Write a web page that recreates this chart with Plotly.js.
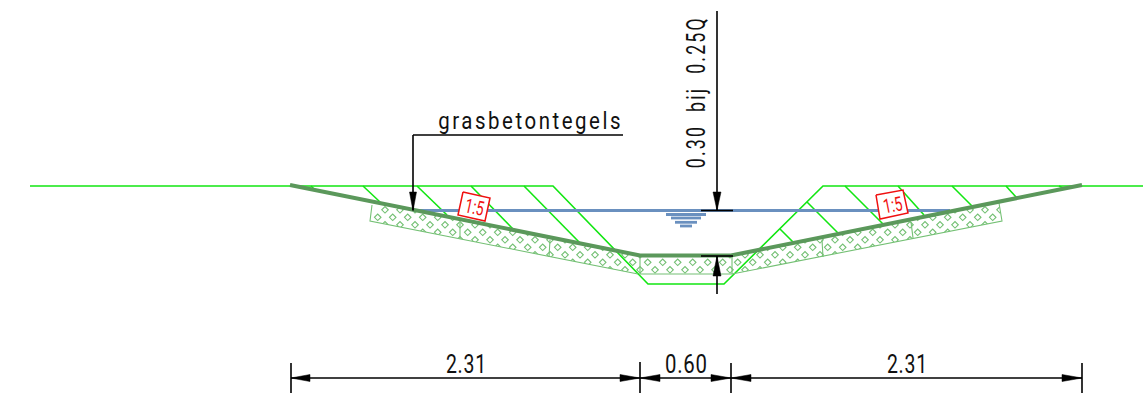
<!DOCTYPE html>
<html><head><meta charset="utf-8">
<script src="https://cdn.plot.ly/plotly-3.0.1.min.js"></script>
<style>html,body{margin:0;padding:0;background:#fff;overflow:hidden}</style></head>
<body><div id="chart" style="width:1143px;height:413px"></div>
<script>
// Drawing values (drawing units)
const groundX = [30,553,648,724,823,1143];
const groundY = [186,186,284,284,186,186];
const hatchX = [311,314,null,363,380,null,417,447,null,471,513,null,524,580,null,
  780,793,null,807,838,null,845,883,null,898,924,null,952,972,null,1006,1016,null,1059,1063];
const hatchY = [186,189,null,186,202,null,186,215,null,186,229,null,186,243,null,
  229,242,null,202,233,null,186,224,null,186,215,null,186,206,null,186,197,null,186,188];
const tileX = [372,370,638,null,460,460,null,550,549,null,640,640,732,732,null,
  732,1002,999,null,822,823,null,911,913];
const tileY = [205,221,274,null,223,239,null,240,257,null,256,274,274,256,null,
  274,221,203,null,240,257,null,222,238];
const diamondX = [
  385,400,415,
  377.7,392.7,407.7,422.7,437.7,452.7,
  385,400,415,430,445,460,475,490,
  422.7,437.7,452.7,467.7,482.7,497.7,512.7,527.7,
  460,475,490,505,520,535,550,565,
  497.7,512.7,527.7,542.7,557.7,572.7,587.7,602.7,
  535,550,565,580,595,610,625,640,
  572.7,587.7,602.7,617.7,632.7,
  647.7,662.7,677.7,692.7,707.7,722.7,
  610,625,640,655,670,685,700,715,730,
  737.7,752.7,767.7,782.7,797.7,
  745,760,
  730,745,760,775,790,805,820,835,
  767.7,782.7,797.7,812.7,827.7,842.7,857.7,872.7,
  805,820,835,850,865,880,895,910,
  842.7,857.7,872.7,887.7,902.7,917.7,932.7,947.7,
  880,895,910,925,940,955,970,985,
  917.7,932.7,947.7,962.7,977.7,992.7,
  955,970,985,1000];
const diamondY = [
  209.8,209.8,209.8,
  217.3,217.3,217.3,217.3,217.3,217.3,
  224.8,224.8,224.8,224.8,224.8,224.8,224.8,224.8,
  232.3,232.3,232.3,232.3,232.3,232.3,232.3,232.3,
  239.8,239.8,239.8,239.8,239.8,239.8,239.8,239.8,
  247.3,247.3,247.3,247.3,247.3,247.3,247.3,247.3,
  254.8,254.8,254.8,254.8,254.8,254.8,254.8,254.8,
  262.3,262.3,262.3,262.3,262.3,
  262.3,262.3,262.3,262.3,262.3,262.3,
  269.8,269.8,269.8,269.8,269.8,269.8,269.8,269.8,269.8,
  262.3,262.3,262.3,262.3,262.3,
  269.8,269.8,
  254.8,254.8,254.8,254.8,254.8,254.8,254.8,254.8,
  247.3,247.3,247.3,247.3,247.3,247.3,247.3,247.3,
  239.8,239.8,239.8,239.8,239.8,239.8,239.8,239.8,
  232.3,232.3,232.3,232.3,232.3,232.3,232.3,232.3,
  224.8,224.8,224.8,224.8,224.8,224.8,224.8,224.8,
  217.3,217.3,217.3,217.3,217.3,217.3,
  209.8,209.8,209.8,209.8];
// white areas that trim the hatching to the tile outline
const trimX = [365,640,731,1012,1012,365,null,
  360,370,638,732,1002,1012,1012,360,null,
  360,372,370,360,null, 999,1012,1012,1002];
const trimY = [200.1,255.5,255.5,199,180,180,null,
  221,221,274,274,221,221,296,296,null,
  195,205,221,221,null, 203,195,221,221];
const slopeX = [290,640,731,1082];
const slopeY = [185,255.5,255.5,185];
const waterX = [413,950,null,666,706,null,671,701,null,675,697,null,680,692];
const waterY = [210.5,210.5,null,214.5,214.5,null,218,218,null,222.3,222.3,null,226,226];
const redBoxX = [463,490,485,458,463,null,876,903,908,880,876];
const redBoxY = [192,198,221,215,192,null,195,190,213,219,195];
const blackX = [413,623,null,413,413,null,717,717,null,701,733,null,701,733,null,717,717,null,
  291,1082,null,291,291,null,640,640,null,731,731,null,1082,1082];
const blackY = [135,135,null,135,210,null,11,210.5,null,210.5,210.5,null,256,256,null,256,294,null,
  378,378,null,363,393,null,362,393,null,363,393,null,363,393];
const arrowX = [413,409.5,416.5,413,null,717,713,721,717,null,717,713,721,717,null,
  291,310,310,291,null,640,620,620,640,null,640,660,660,640,null,
  731,711,711,731,null,731,751,751,731,null,1082,1062,1062,1082];
const arrowY = [211,192,192,211,null,210.5,192,192,210.5,null,256,276,276,256,null,
  378,374.5,381.5,378,null,378,374.5,381.5,378,null,378,374.5,381.5,378,null,
  378,374.5,381.5,378,null,378,374.5,381.5,378,null,378,374.5,381.5,378];
const labelTexts = ["grasbetontegels","0.30  bij  0.25Q","2.31","0.60","2.31"];
const labelX = [530.5,696,466,686,907];
const labelY = [121,92,364,364,364];
const labelAngle = [0,-90,0,0,0];
const labelLength = [185,152,41,43,41];
const slopeLabels = ["1:5","1:5"];
const slopeLabelX = [474,892];
const slopeLabelY = [206.5,204.5];
const slopeLabelAngle = [12,-11];
const slopeLabelLength = [19,19];

const line = (x,y,color,width,extra) => Object.assign({x,y,type:'scatter',mode:'lines',
  line:{color,width,simplify:false},hoverinfo:'skip',showlegend:false,connectgaps:false},extra||{});
const traces = [
  {x:diamondX,y:diamondY,type:'scatter',mode:'markers',hoverinfo:'skip',showlegend:false,
   marker:{symbol:'diamond-open',size:5,color:'#74c074',line:{color:'#74c074',width:1.1}}},
  line(trimX,trimY,'rgba(255,255,255,0)',0,{fill:'toself',fillcolor:'#ffffff'}),
  line(groundX,groundY,'#12e612',1.6),
  line(hatchX,hatchY,'#12e612',1.6),
  line(tileX,tileY,'#74c074',1.1),
  line(waterX,waterY,'#6a90bf',2.8),
  line(redBoxX,redBoxY,'#f01010',1.5,{fill:'toself',fillcolor:'#ffffff'}),
  line(slopeX,slopeY,'#5b985b',4),
  line(blackX,blackY,'#000000',1.6),
  line(arrowX,arrowY,'#000000',0.5,{fill:'toself',fillcolor:'#000000'})
];
const family = 'Roboto, sans-serif';
const spaced = (t,s) => `<span style="letter-spacing:${s}px">${t}</span>`;
const annotations = labelTexts.map((t,i)=>({
  x:labelX[i],y:labelY[i],xref:'x',yref:'y',text:spaced(t,i<2?3:1),textangle:labelAngle[i],
  showarrow:false,xanchor:'center',yanchor:'middle',
  font:{family,size:i===0?24:25,weight:400,color:'#111'}
})).concat(slopeLabels.map((t,i)=>({
  x:slopeLabelX[i],y:slopeLabelY[i],xref:'x',yref:'y',text:t,textangle:slopeLabelAngle[i],
  showarrow:false,xanchor:'center',yanchor:'middle',
  font:{family,size:20,weight:400,color:'#f01010'}
})));
const lengths = labelLength.concat(slopeLabelLength);
Plotly.newPlot('chart',traces,{
  width:1143,height:413,margin:{l:0,r:0,t:0,b:0,pad:0},
  paper_bgcolor:'#fff',plot_bgcolor:'#fff',showlegend:false,
  xaxis:{range:[0,1143],visible:false,fixedrange:true},
  yaxis:{range:[413,0],visible:false,fixedrange:true},
  annotations
},{displayModeBar:false,staticPlot:true}).then(gd=>{
  // narrow the real text to the drawing's lettering width
  gd.querySelectorAll('.annotation-text').forEach((el,i)=>{
    const w = el.getBBox().width;
    el.style.transformBox = 'fill-box';
    el.style.transformOrigin = 'center';
    el.style.transform = `scaleX(${lengths[i]/w})`;
  });
});
</script></body></html>
